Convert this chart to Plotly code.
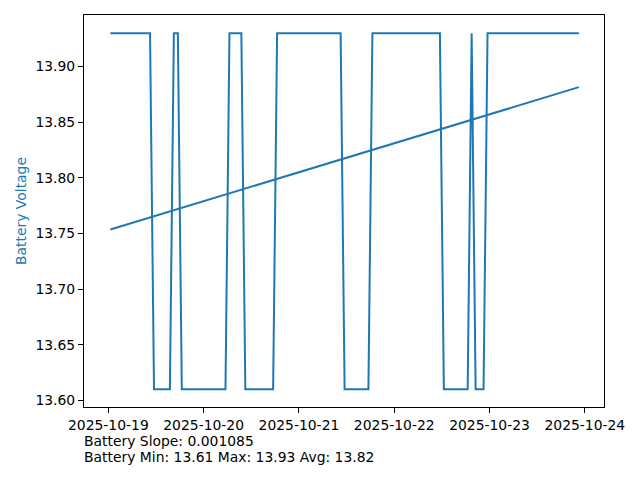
import pandas as pd
import plotly.graph_objects as go

# ---- data ----
start_time = "2025-10-19 00:30"
n_samples = 119
HI, LO = 13.93, 13.61
voltages = ([HI] * 11 + [LO] * 5 + [HI] * 2 + [LO] * 12 + [HI] * 4 + [LO] * 8 +
            [HI] * 17 + [LO] * 7 + [HI] * 18 + [LO] * 7 + [HI] * 1 + [LO] * 3 +
            [HI] * 24)
trend_intercept = 13.7535   # value of the fit at the first timestamp
trend_slope = 0.001085      # volts per hour
stats_text = ["Battery Slope: 0.001085",
              "Battery Min: 13.61 Max: 13.93 Avg: 13.82"]
x_ticks = ["2025-10-19", "2025-10-20", "2025-10-21",
           "2025-10-22", "2025-10-23", "2025-10-24"]
y_ticks = [13.60, 13.65, 13.70, 13.75, 13.80, 13.85, 13.90]

times = pd.date_range(start_time, periods=n_samples, freq="h")
hours = (times - times[0]).total_seconds() / 3600.0
trend = [trend_intercept + trend_slope * h for h in hours]

BLUE = "#1f77b4"
FONT = "DejaVu Sans"
FS = 13.9

fig = go.Figure()
fig.add_trace(go.Scatter(x=times, y=voltages, mode="lines",
                         line=dict(color=BLUE, width=2), showlegend=False))
fig.add_trace(go.Scatter(x=[times[0], times[-1]], y=[trend[0], trend[-1]],
                         mode="lines", line=dict(color=BLUE, width=2),
                         showlegend=False))

fig.update_layout(
    width=640, height=480,
    margin=dict(l=84, r=36, t=15, b=73, autoexpand=False),
    paper_bgcolor="white", plot_bgcolor="white",
    font=dict(family=FONT, size=FS, color="black"),
)
fig.update_xaxes(
    automargin=False,
    range=["2025-10-18 17:52", "2025-10-24 04:50"],
    tickmode="array", tickvals=x_ticks, ticktext=x_ticks,
    ticks="outside", ticklen=5, tickwidth=1, tickcolor="black",
    showline=True, linecolor="black", linewidth=1, mirror=True,
    showgrid=False, zeroline=False,
)
fig.update_yaxes(
    automargin=False,
    range=[13.594, 13.9464],
    tickmode="array", tickvals=y_ticks,
    ticktext=[f"{v:.2f}" for v in y_ticks],
    ticks="outside", ticklen=5, tickwidth=1, tickcolor="black",
    showline=True, linecolor="black", linewidth=1, mirror=True,
    showgrid=False, zeroline=False,
    title=dict(text="Battery Voltage", font=dict(color=BLUE, size=FS), standoff=5),
)
fig.add_annotation(text=stats_text[0], xref="paper", yref="paper", x=-0.004, y=-0.087,
                   xanchor="left", yanchor="middle", showarrow=False,
                   font=dict(size=FS, color="black"))
fig.add_annotation(text=stats_text[1], xref="paper", yref="paper", x=-0.004, y=-0.1278,
                   xanchor="left", yanchor="middle", showarrow=False,
                   font=dict(size=FS, color="black"))

fig.write_html("out.html",
               config={"displayModeBar": False},
               post_script="document.body.style.margin='0';"
                           "document.body.style.overflow='hidden';")
